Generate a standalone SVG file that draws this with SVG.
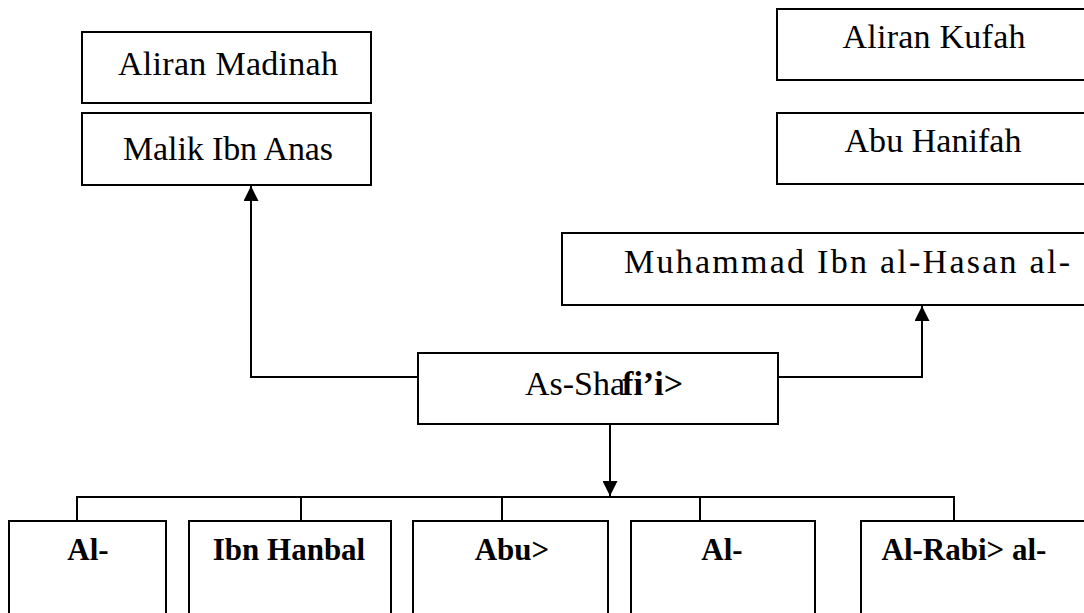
<svg xmlns="http://www.w3.org/2000/svg" width="1084" height="613" viewBox="0 0 1084 613">
<style>
.box{fill:#fff;stroke:#000;stroke-width:2}
.t{font-family:"Liberation Serif","Times New Roman",serif;font-size:34px;fill:#000;text-anchor:middle}
.b{font-weight:bold;font-size:31px}
.c{fill:none;stroke:#000;stroke-width:2}
</style>
<defs>
<marker id="ah" viewBox="0 0 15 15" refX="15" refY="7.5" markerWidth="15" markerHeight="15" markerUnits="userSpaceOnUse" orient="auto">
<path d="M0,0 L15,7.5 L0,15 Z" fill="#000"/>
</marker>
</defs>
<rect width="1084" height="613" fill="#fff"/>
<g id="connectors">
<polyline class="c" points="418,377 251,377 251,186" marker-end="url(#ah)"/>
<polyline class="c" points="778,377 922,377 922,306" marker-end="url(#ah)"/>
<line class="c" x1="610" y1="424" x2="610" y2="496" marker-end="url(#ah)"/>
<polyline class="c" points="77,521 77,497 954,497 954,521"/>
<line class="c" x1="301" y1="497" x2="301" y2="521"/>
<line class="c" x1="502" y1="497" x2="502" y2="521"/>
<line class="c" x1="700" y1="497" x2="700" y2="521"/>
</g>
<g id="aliran-madinah">
<rect class="box" x="82" y="32" width="289" height="71"/>
<text class="t" x="228" y="75" textLength="220" lengthAdjust="spacing">Aliran Madinah</text>
</g>
<g id="malik">
<rect class="box" x="82" y="113" width="289" height="72"/>
<text class="t" x="228" y="160" textLength="210" lengthAdjust="spacing">Malik Ibn Anas</text>
</g>
<g id="aliran-kufah">
<rect class="box" x="777" y="9" width="320" height="71"/>
<text class="t" x="934" y="48" textLength="183" lengthAdjust="spacing">Aliran Kufah</text>
</g>
<g id="abu-hanifah">
<rect class="box" x="777" y="113" width="320" height="71"/>
<text class="t" x="933" y="152" textLength="177" lengthAdjust="spacing">Abu Hanifah</text>
</g>
<g id="muhammad">
<rect class="box" x="562" y="233" width="540" height="72"/>
<text class="t" x="847" y="273" textLength="446" lengthAdjust="spacing">Muhammad Ibn al-Hasan al-</text>
</g>
<g id="shafii">
<rect class="box" x="418" y="353" width="360" height="71"/>
<text class="t" x="604" y="395">As-Sha<tspan font-weight="bold" dx="-3">fi’i&gt;</tspan></text>
</g>
<g id="child-1">
<rect class="box" x="9" y="521" width="157" height="110"/>
<text class="t b" x="88" y="560">Al-</text>
</g>
<g id="child-2">
<rect class="box" x="189" y="521" width="202" height="110"/>
<text class="t b" x="289" y="560">Ibn Hanbal</text>
</g>
<g id="child-3">
<rect class="box" x="413" y="521" width="195" height="110"/>
<text class="t b" x="512" y="560">Abu&gt;</text>
</g>
<g id="child-4">
<rect class="box" x="631" y="521" width="184" height="110"/>
<text class="t b" x="722" y="560">Al-</text>
</g>
<g id="child-5">
<rect class="box" x="861" y="521" width="240" height="110"/>
<text class="t b" x="964" y="560">Al-Rabi&gt; al-</text>
</g>
</svg>
